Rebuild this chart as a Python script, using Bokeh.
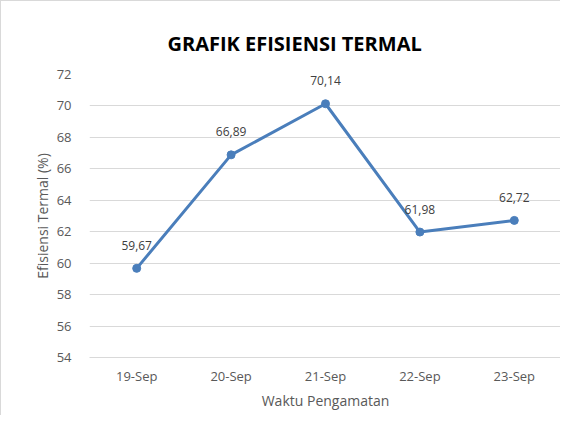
from bokeh.plotting import figure
from bokeh.models import FactorRange, Range1d, FixedTicker, ColumnDataSource, LabelSet, Title
from bokeh.core.properties import value
from bokeh.embed import file_html
from bokeh.resources import INLINE

dates = ["19-Sep", "20-Sep", "21-Sep", "22-Sep", "23-Sep"]
efisiensi = [59.67, 66.89, 70.14, 61.98, 62.72]
y_ticks = [54, 56, 58, 60, 62, 64, 66, 68, 70, 72]

FONT = "Open Sans"
LINE = "#4A7EBB"
TXT = "#595959"

labels = [f"{v:.2f}".replace(".", ",") for v in efisiensi]
src = ColumnDataSource(dict(x=dates, y=efisiensi, lab=labels))

p = figure(width=560, height=415, output_backend="svg", toolbar_location=None,
           x_range=FactorRange(*dates, range_padding=0), y_range=Range1d(54, 72),
           min_border_left=88, min_border_right=0, min_border_top=73, min_border_bottom=59,
           background_fill_color="white", border_fill_color="white")
p.styles = {"border-left": "1px solid #d9d9d9", "border-top": "1px solid #d9d9d9"}
p.outline_line_color = None

t = Title(text="GRAFIK EFISIENSI TERMAL", align="left", offset=78,
          text_font=FONT, text_font_size="20px", text_font_style="bold",
          text_color="#000000", standoff=36)
p.add_layout(t, "above")

p.line("x", "y", source=src, line_color=LINE, line_width=3)
p.scatter("x", "y", source=src, size=8, fill_color=LINE, line_color=LINE)
p.add_layout(LabelSet(x="x", y="y", text="lab", source=src, y_offset=23,
                      text_align="center", text_baseline="middle",
                      text_font=value(FONT), text_font_size=value("12px"),
                      text_color="#404040"))

p.yaxis.ticker = FixedTicker(ticks=y_ticks)
p.ygrid.ticker = FixedTicker(ticks=y_ticks)
p.ygrid.grid_line_color = "#d9d9d9"
p.xgrid.grid_line_color = None

for ax in (p.xaxis[0], p.yaxis[0]):
    ax.major_tick_line_color = None
    ax.minor_tick_line_color = None
    ax.major_label_text_font = FONT
    ax.major_label_text_font_size = "13px"
    ax.major_label_text_color = TXT
    ax.axis_label_text_font = FONT
    ax.axis_label_text_font_size = "14px"
    ax.axis_label_text_color = TXT
    ax.axis_label_text_font_style = "normal"

p.yaxis.axis_line_color = None
p.yaxis.major_label_standoff = 12
p.yaxis.axis_label = "Efisiensi Termal (%)"
p.yaxis.axis_label_standoff = 2

p.xaxis.axis_line_color = "#d9d9d9"
p.xaxis.axis_line_width = 1
p.xaxis.major_label_standoff = 3
p.xaxis.axis_label = "Waktu Pengamatan"
p.xaxis.axis_label_standoff = 3

open("out.html", "w").write(file_html(p, INLINE))
